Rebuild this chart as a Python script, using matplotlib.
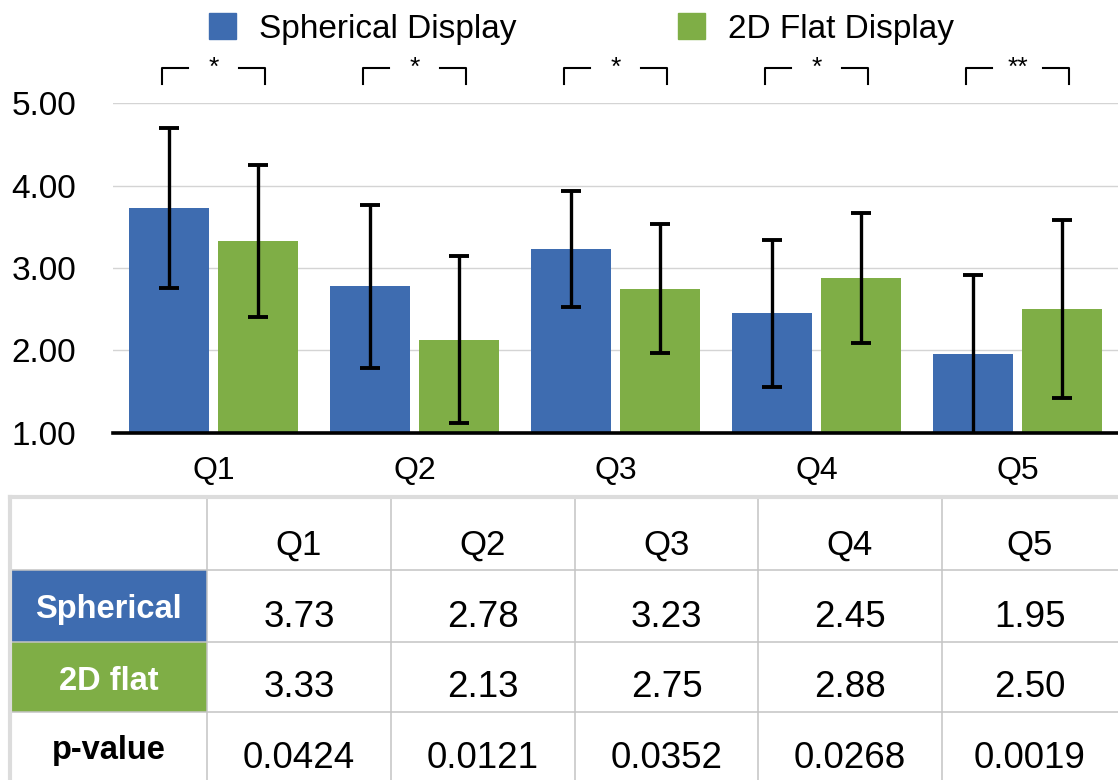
"""Spherical vs 2D flat display ratings with stats table."""
import matplotlib
matplotlib.use("Agg")
import matplotlib.pyplot as plt
import numpy as np
from matplotlib.patches import Rectangle

plt.rcParams.update({
    "font.family": ["Liberation Sans", "DejaVu Sans"],
    "font.size": 23,
})

questions = ["Q1", "Q2", "Q3", "Q4", "Q5"]
spherical_mean = [3.73, 2.78, 3.23, 2.45, 1.95]
spherical_sd = [0.97, 0.99, 0.70, 0.89, 0.96]
flat_mean = [3.33, 2.13, 2.75, 2.88, 2.50]
flat_sd = [0.92, 1.01, 0.78, 0.79, 1.08]
p_values = ["0.0424", "0.0121", "0.0352", "0.0268", "0.0019"]
stars = ["*", "*", "*", "*", "**"]
yticks = [1.0, 2.0, 3.0, 4.0, 5.0]

BLUE = "#3e6cb0"
GREEN = "#7fae46"
W, H = 1118, 780

fig = plt.figure(figsize=(W / 100, H / 100), dpi=100)

# ---- bar chart ----
ax = fig.add_axes([113 / W, (H - 432.7) / H, (W - 113) / W, (432.7 - 103.3) / H])
x = np.arange(len(questions))
bw, off = 0.40, 0.221
ax.bar(x - off, np.array(spherical_mean) - 1, bw, bottom=1, color=BLUE, zorder=2)
ax.bar(x + off, np.array(flat_mean) - 1, bw, bottom=1, color=GREEN, zorder=2)
ekw = dict(fmt="none", ecolor="black", elinewidth=2.4, capsize=7.5, capthick=2.8, zorder=3)
ax.errorbar(x - off, spherical_mean, yerr=spherical_sd, **ekw)
ax.errorbar(x + off, flat_mean, yerr=flat_sd, **ekw)

ax.set_xlim(-0.5, len(questions) - 0.5)
ax.set_ylim(1, 5)
ax.set_yticks(yticks)
ax.set_yticklabels([f"{v:.2f}" for v in yticks], fontsize=24)
ax.set_xticks(x)
ax.set_xticklabels(questions, fontsize=23)
ax.tick_params(axis="y", length=0, pad=26.5)
ax.tick_params(axis="x", length=0, pad=17)
ax.grid(axis="y", color="#d4d4d4", lw=1.0, zorder=0)
for s in ["left", "right", "top"]:
    ax.spines[s].set_visible(False)
ax.spines["bottom"].set_linewidth(2.6)
ax.spines["bottom"].set_zorder(4)

# significance brackets above each pair
for xi, st in zip(x, stars):
    kw = dict(color="black", lw=1.5, clip_on=False)
    ax.plot([xi - 0.256, xi - 0.256, xi - 0.127], [5.235, 5.43, 5.43], **kw)
    ax.plot([xi + 0.127, xi + 0.256, xi + 0.256], [5.43, 5.43, 5.235], **kw)
    ax.text(xi, 5.43, st, ha="center", va="center", fontsize=19, clip_on=False)

# ---- legend ----
ov = fig.add_axes([0, 0, 1, 1], zorder=5)
ov.set_xlim(0, W)
ov.set_ylim(H, 0)
ov.axis("off")
ov.add_patch(Rectangle((209, 13), 27, 26, color=BLUE))
ov.text(259, 38, "Spherical Display", fontsize=24, va="baseline")
ov.add_patch(Rectangle((678, 13), 27, 26, color=GREEN))
ov.text(728, 38, "2D Flat Display", fontsize=24, va="baseline")

# ---- table ----
col_edges = [10, 207, 391, 575, 758, 942, W]
row_edges = [497, 570, 642, 712, 780]
ov.add_patch(Rectangle((10, 570), 197, 72, color=BLUE, lw=0))
ov.add_patch(Rectangle((10, 642), 197, 70, color=GREEN, lw=0))
for cx in col_edges[1:-1]:
    ov.plot([cx, cx], [row_edges[0], H], color="#c4c4c4", lw=1.1)
for ry in row_edges[1:-1]:
    ov.plot([10, W], [ry, ry], color="#c4c4c4", lw=1.1)
ov.plot([10, W], [row_edges[0], row_edges[0]], color="#dcdcdc", lw=3)
ov.plot([10, 10], [row_edges[0], H], color="#dcdcdc", lw=3)

centers = [(a + b) / 2 for a, b in zip(col_edges[1:], col_edges[2:])]
for cx, q in zip(centers, questions):
    ov.text(cx, 555, q, ha="center", va="baseline", fontsize=25)
for cx, v in zip(centers, spherical_mean):
    ov.text(cx, 627, f"{v:.2f}", ha="center", va="baseline", fontsize=26.5)
for cx, v in zip(centers, flat_mean):
    ov.text(cx, 697, f"{v:.2f}", ha="center", va="baseline", fontsize=26.5)
for cx, v in zip(centers, p_values):
    ov.text(cx, 768, v, ha="center", va="baseline", fontsize=26.5)

lx = (col_edges[0] + col_edges[1]) / 2
ov.text(lx, 618, "Spherical", ha="center", va="baseline", fontsize=23.5, weight="bold", color="white")
ov.text(lx, 690, "2D flat", ha="center", va="baseline", fontsize=23.5, weight="bold", color="white")
ov.text(lx, 759, "p-value", ha="center", va="baseline", fontsize=23.5, weight="bold", color="black")

fig.savefig("out.png", dpi=100)
